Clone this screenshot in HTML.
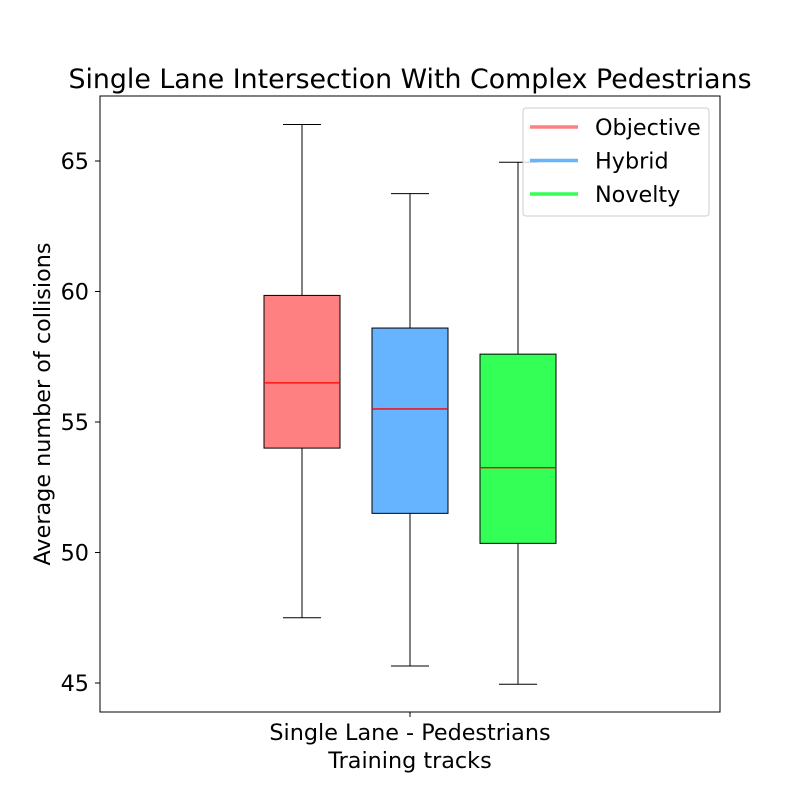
<!DOCTYPE html>
<html><head><meta charset="utf-8"><style>
body{margin:0;background:#fff}
svg text{font-family:"DejaVu Sans","Liberation Sans",sans-serif;fill:#000}
</style></head><body>
<svg id="chart" width="800" height="800">
<rect x="0" y="0" width="800" height="800" fill="#fff"/>
<text x="410" y="88" font-size="26.8" text-anchor="middle">Single Lane Intersection With Complex Pedestrians</text>
<g id="marks"></g>
<rect x="100" y="96" width="620" height="616" fill="none" stroke="#000" stroke-width="1"/>
<g id="yaxis"></g>
<text transform="translate(50,404) rotate(-90)" font-size="22.3" text-anchor="middle">Average number of collisions</text>
<line x1="410" y1="712" x2="410" y2="717" stroke="#000"/>
<text x="410" y="740" font-size="22.3" text-anchor="middle">Single Lane - Pedestrians</text>
<text x="410" y="768" font-size="22.3" text-anchor="middle">Training tracks</text>
<g>
<rect x="523" y="108" width="186" height="108" rx="3" fill="#fff" fill-opacity="0.8" stroke="#ccc"/>
<g id="legend"></g>
</g>
</svg>
<script>
const series = ["Objective","Hybrid","Novelty"];
const colors = ["#ff8080","#66b3ff","#33ff57"];
const whiskerLow = [47.5,45.65,44.95];
const q1 = [54.0,51.5,50.35];
const median = [56.5,55.5,53.25];
const q3 = [59.85,58.6,57.6];
const whiskerHigh = [66.4,63.75,64.95];
const yTicks = [45,50,55,60,65];

const NS="http://www.w3.org/2000/svg";
function y(v){return 683-(v-45)*26.1;}
function xc(i){return 302+i*108;}
function mk(tag,attrs,parent){const e=document.createElementNS(NS,tag);for(const k in attrs)e.setAttribute(k,attrs[k]);parent.appendChild(e);return e;}
const marks=document.getElementById('marks');
const yaxis=document.getElementById('yaxis');
const legend=document.getElementById('legend');
yTicks.forEach(t=>{
  const l=mk('line',{x1:95,x2:100,y1:y(t),y2:y(t),stroke:'#000'},yaxis);
  
  
  const tx=mk('text',{x:89,y:y(t)+8,'font-size':22.3,'text-anchor':'end'},yaxis);
  tx.textContent=t;
  
  
});
const hw=38, cw=19;
series.forEach((s,i)=>{
  const c=xc(i);
  const g=mk('g',{},marks);
  
  
  mk('line',{x1:c,x2:c,y1:y(whiskerHigh[i]),y2:y(q3[i]),stroke:'#000'},g);
  mk('line',{x1:c,x2:c,y1:y(q1[i]),y2:y(whiskerLow[i]),stroke:'#000'},g);
  mk('line',{x1:c-cw,x2:c+cw,y1:y(whiskerHigh[i]),y2:y(whiskerHigh[i]),stroke:'#000'},g);
  mk('line',{x1:c-cw,x2:c+cw,y1:y(whiskerLow[i]),y2:y(whiskerLow[i]),stroke:'#000'},g);
  mk('rect',{x:c-hw,y:y(q3[i]),width:hw*2,height:y(q1[i])-y(q3[i]),fill:colors[i],stroke:'#000'},g);
  mk('line',{x1:c-hw,x2:c+hw,y1:y(median[i]),y2:y(median[i]),stroke:'#ff0000','stroke-width':1.3},g);
  const ly=127+i*33.5;
  const le=mk('g',{},legend);
  
  
  mk('line',{x1:530,x2:578,y1:ly,y2:ly,stroke:colors[i],'stroke-width':3.5},le);
  const lt=mk('text',{x:595,y:ly+8,'font-size':22.3},le);
  lt.textContent=s;
});
</script>
</body></html>
